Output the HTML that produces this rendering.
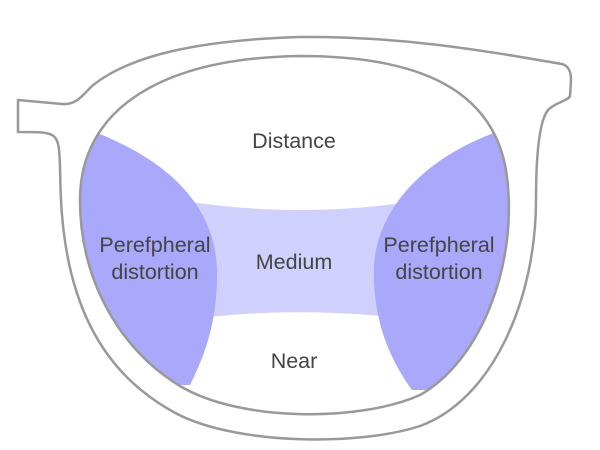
<!DOCTYPE html>
<html><head><meta charset="utf-8"><style>
html,body{margin:0;padding:0;background:#fff;width:600px;height:450px;overflow:hidden}
text{font-family:"Liberation Sans",sans-serif;font-size:21.5px;fill:#444}
</style></head><body>
<svg width="600" height="450" viewBox="0 0 600 450" xmlns="http://www.w3.org/2000/svg">
<defs>
<clipPath id="lens"><path id="lp" d="M300 56 C420 56 492 90 506 170 C520 260 482 360 420 395 C360 422 240 422 180 386 C120 350 80 280 80 200 C80 110 160 58 300 56 Z"/></clipPath>
</defs>
<path d="M18 100 L62 104 C76 105 82 96 92 86 C130 55 200 40 300 37 C400 36 480 50 562 64 C569 66 571 72 571 80 L570 96 C568 101 556 102 548 110 C540 120 536 150 536 200 C536 300 492 400 420 426 C360 446 230 446 170 410 C100 370 66 300 61 200 C59 160 62 140 52 135 C46 132 40 132 18 132 Z" fill="#fff" stroke="#999" stroke-width="2.5"/>
<g clip-path="url(#lens)">
<path d="M150 195 C250 215 350 215 450 195 L450 325 C350 308 250 308 150 325 Z" fill="#d0d0fd"/>
<path d="M60 120 C160 150 215 200 217 270 C218 320 205 355 190 385 L60 385 Z" fill="#aaa8fb"/>
<path d="M540 120 C440 140 378 200 374 265 C372 320 390 360 412 390 L540 390 Z" fill="#aaa8fb"/>
</g>
<use href="#lp" fill="none" stroke="#999" stroke-width="2.5"/>
<text x="294" y="148" text-anchor="middle">Distance</text>
<text x="294" y="269" text-anchor="middle">Medium</text>
<text x="294" y="368" text-anchor="middle">Near</text>
<text x="155" y="252" text-anchor="middle">Perefpheral</text>
<text x="155" y="279" text-anchor="middle">distortion</text>
<text x="439" y="252" text-anchor="middle">Perefpheral</text>
<text x="439" y="279" text-anchor="middle">distortion</text>
</svg>
</body></html>
